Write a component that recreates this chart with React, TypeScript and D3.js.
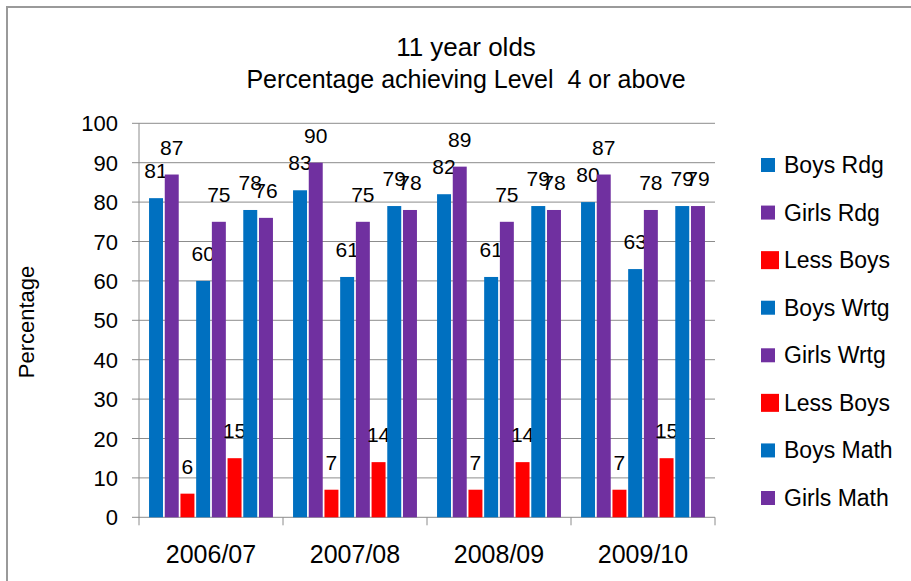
import { scaleBand, scaleLinear } from "d3";

// data
const years = ["2006/07", "2007/08", "2008/09", "2009/10"];
const seriesNames = [
  "Boys Rdg",
  "Girls Rdg",
  "Less Boys",
  "Boys Wrtg",
  "Girls Wrtg",
  "Less Boys",
  "Boys Math",
  "Girls Math",
];
const boysRdg = [81, 83, 82, 80];
const girlsRdg = [87, 90, 89, 87];
const lessBoysRdg = [6, 7, 7, 7];
const boysWrtg = [60, 61, 61, 63];
const girlsWrtg = [75, 75, 75, 78];
const lessBoysWrtg = [15, 14, 14, 15];
const boysMath = [78, 79, 79, 79];
const girlsMath = [76, 78, 78, 79];
const yTicks = [0, 10, 20, 30, 40, 50, 60, 70, 80, 90, 100];

const seriesValues = [
  boysRdg,
  girlsRdg,
  lessBoysRdg,
  boysWrtg,
  girlsWrtg,
  lessBoysWrtg,
  boysMath,
  girlsMath,
];
const BLUE = "#0070C0";
const PURPLE = "#7030A0";
const RED = "#FF0000";
const colors = [BLUE, PURPLE, RED, BLUE, PURPLE, RED, BLUE, PURPLE];

const W = 911;
const H = 581;
const left = 139;
const right = 715;
const top = 123.3;
const bottom = 517.3;
const font = "'Liberation Sans', Arial, sans-serif";
const gridColor = "#8c8c8c";

export default function App() {
  const x0 = scaleBand<string>().domain(years).range([left, right]);
  const x1 = scaleBand<number>()
    .domain(seriesNames.map((_, i) => i))
    .range([0, x0.bandwidth()])
    .paddingInner(0.11)
    .paddingOuter(0.64);
  const y = scaleLinear().domain([0, 100]).range([bottom, top]);
  const legendY = scaleLinear().domain([0, 7]).range([165, 498]);

  return (
    <svg
      width={W}
      height={H}
      style={{ position: "absolute", left: 0, top: 0, background: "#fff" }}
    >
      <rect x={0} y={0} width={W} height={H} fill="#fff" />
      {/* outer frame */}
      <path d={`M7,${H + 5}V7H${W + 5}`} fill="none" stroke="#9a9a9a" strokeWidth={2} />

      {/* title */}
      <text x={466} y={56} textAnchor="middle" fontFamily={font} fontSize={26} fill="#000">
        11 year olds
      </text>
      <text x={466} y={88} textAnchor="middle" fontFamily={font} fontSize={25} fill="#000" xmlSpace="preserve">
        Percentage achieving Level  4 or above
      </text>

      {/* gridlines and y axis */}
      {yTicks.map((t) => (
        <g key={t}>
          <line x1={left - 7} x2={right} y1={y(t)} y2={y(t)} stroke={gridColor} strokeWidth={1} />
          <text
            x={118}
            y={y(t) + 8}
            textAnchor="end"
            fontFamily={font}
            fontSize={22}
            fill="#000"
          >
            {t}
          </text>
        </g>
      ))}
      <line x1={left} x2={left} y1={top} y2={bottom} stroke={gridColor} strokeWidth={1} />
      <text
        transform={`translate(34,322) rotate(-90)`}
        textAnchor="middle"
        fontFamily={font}
        fontSize={22}
        fill="#000"
      >
        Percentage
      </text>

      {/* x axis */}
      {[...years.map((d) => x0(d) as number), right].map((xv, i) => (
        <line key={i} x1={xv} x2={xv} y1={bottom} y2={bottom + 8} stroke={gridColor} strokeWidth={1} />
      ))}
      {years.map((d) => (
        <text
          key={d}
          x={(x0(d) as number) + x0.bandwidth() / 2}
          y={563}
          textAnchor="middle"
          fontFamily={font}
          fontSize={25}
          fill="#000"
        >
          {d}
        </text>
      ))}

      {/* bars */}
      {years.map((yr, gi) => (
        <g key={yr} transform={`translate(${x0(yr)},0)`}>
          {seriesValues.map((vals, si) => {
            const v = vals[gi];
            const bx = x1(si) as number;
            return (
              <g key={si}>
                <rect
                  x={bx}
                  y={y(v)}
                  width={x1.bandwidth()}
                  height={bottom - y(v)}
                  fill={colors[si]}
                />
                <text
                  x={bx + x1.bandwidth() / 2}
                  y={y(v) - 20}
                  textAnchor="middle"
                  fontFamily={font}
                  fontSize={21}
                  fill="#000"
                >
                  {v}
                </text>
              </g>
            );
          })}
        </g>
      ))}

      {/* legend */}
      {seriesNames.map((name, i) => {
        const cy = legendY(i);
        const s = colors[i] === RED ? 18 : 14;
        return (
          <g key={i}>
            <rect x={761} y={cy - s / 2} width={s} height={s} fill={colors[i]} />
            <text x={784} y={cy + 8} fontFamily={font} fontSize={23} fill="#000">
              {name}
            </text>
          </g>
        );
      })}
    </svg>
  );
}
